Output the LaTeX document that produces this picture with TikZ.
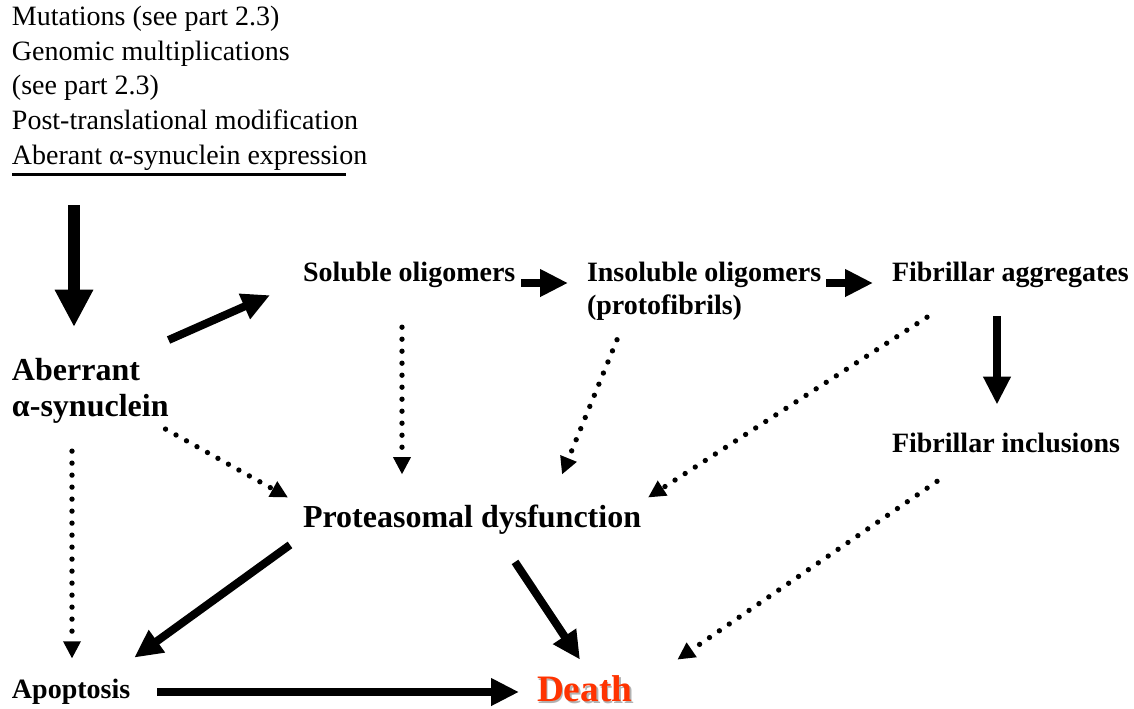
\documentclass[tikz,border=0pt]{standalone}
\usepackage{fontspec}
\setmainfont{Liberation Serif}
\usetikzlibrary{arrows.meta}
\definecolor{deathred}{RGB}{255,51,0}

\begin{document}
\begin{tikzpicture}[
    x=0.75pt, y=-0.75pt,
    every node/.style={inner sep=0pt, outer sep=0pt},
    plaintxt/.style={font=\fontsize{21}{26}\selectfont, align=left},
    lbl/.style={font=\fontsize{21}{25}\selectfont\bfseries, align=left},
    biglbl/.style={font=\fontsize{24}{27}\selectfont\bfseries, align=left},
    fatarrow/.style={line width=6pt, -{Triangle[length=21pt,width=19.5pt]}},
    bigarrow/.style={line width=9pt, -{Triangle[length=28pt,width=27pt]}},
    dotarrow/.style={line width=4pt, line cap=round, dash pattern=on 0pt off 9pt,
                     -{Triangle[length=13pt,width=12.5pt]}}
]

% --- canvas (pixel grid, y downwards) ---
\useasboundingbox (0,0) rectangle (1134,708);

% --- causes, upper left ---
\node[plaintxt, anchor=north west] (expr) at (12,6)
  {Mutations (see part 2.3)\\Genomic multiplications\\(see part 2.3)\\Post-translational modification\\Aberant α-synuclein expression};
\draw[line width=2.25pt] ([shift={(0,4)}]expr.south west) -- ([shift={(-21,4)}]expr.south east);

% --- labels ---
\node[biglbl, anchor=north west] (aber) at (12,358) {Aberrant\\α-synuclein};
\node[lbl, anchor=base west] (sol)    at (303,281) {Soluble oligomers};
\node[lbl, anchor=north west] (insol) at (587,262) {Insoluble oligomers\\(protofibrils)};
\node[lbl, anchor=base west] (fibagg) at (892,281) {Fibrillar aggregates};
\node[lbl, anchor=base west] (fibinc) at (892,452) {Fibrillar inclusions};
\node[biglbl, anchor=base west] (prot) at (303,527) {Proteasomal dysfunction};
\node[lbl, anchor=base west] (apop)   at (12,698)  {Apoptosis};
\node[font=\fontsize{28}{30}\selectfont\bfseries, text=black!30, anchor=base west] (deathshadow) at (538.5,703) {Death};
\node[font=\fontsize{28}{30}\selectfont\bfseries, text=deathred, anchor=base west] (death) at (537,701.5) {Death};

% --- solid arrows ---
\draw[bigarrow] ([shift={(62,35)}]expr.south west) -- ([shift={(62,-31)}]aber.north west);
\draw[fatarrow] ([shift={(0,-18)}]aber.north east) -- ([shift={(-33,8)}]sol.south west);
\draw[fatarrow] ([shift={(6,2)}]sol.base east) -- ([shift={(-19,21)}]insol.north west);
\draw[fatarrow] ([shift={(5,21)}]insol.north east) -- ([shift={(-19,2)}]fibagg.base west);
\draw[fatarrow] ([shift={(105,29)}]fibagg.south west) -- ([shift={(105,-28)}]fibinc.north west);
\draw[fatarrow] ([shift={(-13,11)}]prot.south west) -- ([shift={(4,-21)}]apop.north east);
\draw[fatarrow] ([shift={(212,28)}]prot.south west) -- ([shift={(43,-16)}]death.north west);
\draw[fatarrow] ([shift={(27,-6)}]apop.base east) -- ([shift={(-18,-9.5)}]death.base west);

% --- dotted arrows ---
\draw[dotarrow] ([shift={(99,40)}]sol.south west) -- ([shift={(99,-30)}]prot.north west);
\draw[dotarrow] ([shift={(30,19)}]insol.south west) -- ([shift={(259,-30)}]prot.north west);
\draw[dotarrow] ([shift={(35,30)}]fibagg.south west) -- ([shift={(7,-7)}]prot.north east);
\draw[dotarrow] ([shift={(-3,6)}]aber.south east) -- ([shift={(-15,-7)}]prot.north west);
\draw[dotarrow] ([shift={(60,28)}]aber.south west) -- ([shift={(60,-20)}]apop.north west);
\draw[dotarrow] ([shift={(45,29)}]fibinc.south west) -- ([shift={(45,-16)}]death.north east);

\end{tikzpicture}
\end{document}
